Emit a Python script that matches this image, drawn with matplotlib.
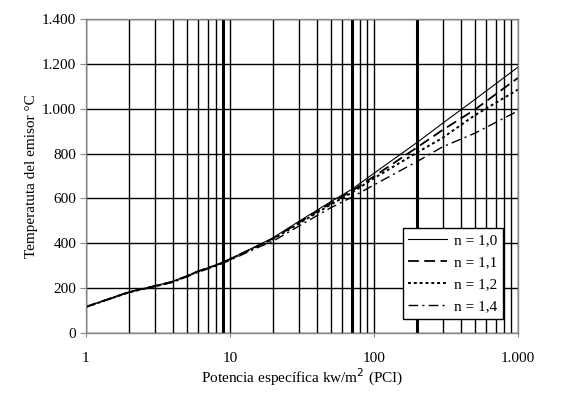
import matplotlib
matplotlib.use("Agg")
import matplotlib.pyplot as plt
from matplotlib.ticker import FixedLocator, FuncFormatter, NullFormatter

plt.rcParams['font.family'] = ['Liberation Serif', 'DejaVu Serif']
plt.rcParams['font.size'] = 11

potencia = [1, 2, 3, 4, 5, 6, 8, 10, 15, 20, 30, 50, 70, 100, 200, 300, 500, 1000]
t_n10 = [117, 184, 210, 230, 254, 276, 303, 330, 385, 425, 497, 585, 640, 712, 850, 935, 1040, 1185]
t_n11 = [117, 183, 209, 229, 253, 275, 302, 329, 383, 422, 492, 578, 633, 698, 828, 905, 995, 1137]
t_n12 = [116, 182, 208, 228, 252, 274, 301, 328, 381, 419, 487, 572, 625, 690, 805, 870, 970, 1085]
t_n14 = [115, 181, 206, 226, 250, 271, 298, 324, 376, 410, 476, 558, 605, 660, 765, 830, 890, 990]

etiquetas = ['n = 1,0', 'n = 1,1', 'n = 1,2', 'n = 1,4']
x_ticks = [1, 10, 100, 1000]
y_ticks = list(range(0, 1401, 200))
grid_gruesa = [9, 70, 200]


def miles(v, pos):
    return f"{int(round(v)):,}".replace(",", ".")


fig = plt.figure(figsize=(5.79, 3.95), dpi=100)
ax = fig.add_axes([0.1485, 0.157, 0.746, 0.795])

ax.plot(potencia, t_n10, color='black', lw=0.8, ls='-', label=etiquetas[0])
ax.plot(potencia, t_n11, color='black', lw=1.3, ls=(0, (6, 3)), label=etiquetas[1])
ax.plot(potencia, t_n12, color='black', lw=1.4, ls=(0, (1.5, 1.5)), label=etiquetas[2])
ax.plot(potencia, t_n14, color='black', lw=1.0, ls=(0, (7, 3, 1.5, 3)), label=etiquetas[3])

ax.set_xscale('log')
ax.set_xlim(1, 1000)
ax.set_ylim(0, 1400)

ax.xaxis.set_major_locator(FixedLocator(x_ticks))
ax.xaxis.set_major_formatter(FuncFormatter(miles))
ax.xaxis.set_minor_formatter(NullFormatter())
ax.yaxis.set_major_locator(FixedLocator(y_ticks))
ax.yaxis.set_major_formatter(FuncFormatter(miles))

ax.grid(True, which='both', axis='x', color='black', lw=1.0)
ax.grid(True, which='major', axis='y', color='black', lw=1.0)
for g in grid_gruesa:
    ax.axvline(g, color='black', lw=2.2, zorder=0.5)
ax.set_axisbelow(True)

for s in ['top', 'right', 'left', 'bottom']:
    ax.spines[s].set_color('#888888')
    ax.spines[s].set_linewidth(1.0)
ax.spines['top'].set_linestyle((0, (1, 1)))
ax.spines['right'].set_linestyle((0, (1, 1)))

ax.tick_params(axis='y', which='major', length=4, color='#888888', direction='out', pad=3)
ax.tick_params(axis='x', which='major', length=3, color='#888888', direction='out', pad=11)
ax.tick_params(axis='x', which='minor', length=0)

ax.set_xlabel('Potencia específica kw/m$^2$ (PCI)', labelpad=1)
ax.set_ylabel('Temperatuta del emisor °C', labelpad=3)

leg = ax.legend(loc='lower right', bbox_to_anchor=(0.965, 0.045), borderaxespad=0,
                fancybox=False, framealpha=1, edgecolor='black', handlelength=2.5,
                labelspacing=0.55, handletextpad=0.5, borderpad=0.35)
leg.get_frame().set_linewidth(1.0)

fig.savefig('out.png', dpi=100)
